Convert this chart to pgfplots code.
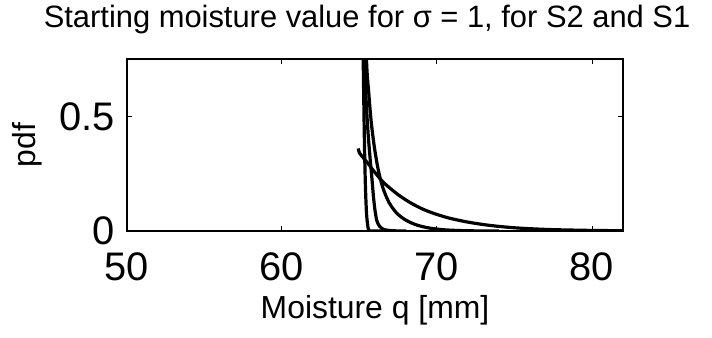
\documentclass[border=0pt]{standalone}
\usepackage{fontspec}
\setmainfont{Liberation Sans}
\usepackage{pgfplots}
\pgfplotsset{compat=1.18}
\begin{document}
\begin{tikzpicture}
\begin{axis}[
  name=ax,
  scale only axis,
  width=496bp, height=172bp,
  xmin=50, xmax=82, ymin=0, ymax=0.75,
  xtick={50,60,70,80}, ytick={0,0.5},
  yticklabels={0,0.5},
  tick align=inside,
  major tick length=5bp,
  axis line style={line width=1.6bp},
  every tick/.style={line width=1bp, black},
  tick label style={font=\fontsize{40}{42}\selectfont, /pgf/number format/assume math mode=true},
  xticklabel style={inner sep=0pt, anchor=north, yshift=-21bp},
  yticklabel style={inner sep=0pt, anchor=east, xshift=-12bp},
  title={Starting moisture value for σ = 1, for S2 and S1},
  title style={at={(axis description cs:0.484,1.186)}, anchor=base, yshift=-6pt, font=\fontsize{31}{33}\selectfont, inner sep=0pt},
  xlabel={Moisture q [mm]},
  xlabel style={at={(axis description cs:0.5,-0.506)}, anchor=base, font=\fontsize{32}{34}\selectfont, inner sep=0pt},
  ylabel={pdf},
  ylabel style={at={(axis description cs:-0.1835,0.5)}, anchor=base, font=\fontsize{32}{34}\selectfont, inner sep=0pt},
]
% curve A (narrowest)
\addplot[black, line width=3.2bp, smooth] coordinates {
 (65.18,1.2) (65.22,0.85) (65.27,0.6) (65.32,0.38) (65.38,0.2) (65.45,0.08) (65.52,0.03) (65.58,0.006) (65.7,0) (67,0)
};
% curve B
\addplot[black, line width=3.2bp, smooth] coordinates {
 (65.25,1.2) (65.33,0.75) (65.42,0.58) (65.55,0.43) (65.68,0.32) (65.8,0.23) (65.9,0.15) (66.0,0.09) (66.12,0.045) (66.3,0.02) (66.6,0.006) (67.2,0.001) (68,0)
};
% curve C
\addplot[black, line width=3.2bp, smooth] coordinates {
 (65.3,1.2) (65.45,0.75) (65.6,0.6) (65.75,0.48) (65.95,0.37) (66.2,0.27) (66.5,0.19) (66.9,0.125) (67.4,0.078) (68.0,0.047) (68.7,0.026) (69.5,0.013) (70.5,0.005) (72,0.001) (74,0)
};
% curve D (broadest)
\addplot[black, line width=3.2bp, smooth] coordinates {
 (64.92,0.36) (65.0,0.34) (65.3,0.315) (65.6,0.29) (66.0,0.255) (66.5,0.215) (67.0,0.185) (67.5,0.158) (68.0,0.135) (68.5,0.115) (69.0,0.098) (69.5,0.084) (70.0,0.072) (70.8,0.056) (71.9,0.04) (73.0,0.028) (74.0,0.02) (75.0,0.014) (76.0,0.01) (77.0,0.007) (78.0,0.005) (80.0,0.0025) (82.0,0.0012)
};
\end{axis}
\pgfresetboundingbox
\path[use as bounding box] (ax.south west) ++(-127bp,-107bp) rectangle ++(712bp,338bp);
\end{tikzpicture}
\end{document}
